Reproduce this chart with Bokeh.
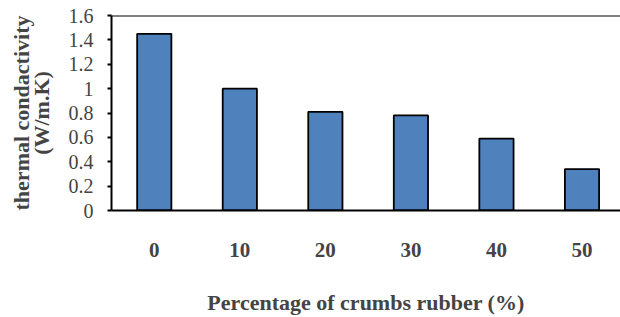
from bokeh.plotting import figure
from bokeh.models import Range1d, FixedTicker, ColumnDataSource, Span
from bokeh.embed import file_html
from bokeh.resources import INLINE

categories = ["0", "10", "20", "30", "40", "50"]
conductivity = [1.45, 1.00, 0.81, 0.78, 0.59, 0.34]
y_ticks = [0, 0.2, 0.4, 0.6, 0.8, 1.0, 1.2, 1.4, 1.6]
y_tick_labels = ["0", "0.2", "0.4", "0.6", "0.8", "1", "1.2", "1.4", "1.6"]

FONT = "Liberation Serif"

xs = list(range(len(categories)))
src = ColumnDataSource(dict(x=xs, top=conductivity))

p = figure(width=620, height=317, output_backend="svg", toolbar_location=None,
           x_range=Range1d(-0.5, len(categories) - 0.55), y_range=Range1d(0, 1.6),
           min_border_left=111, min_border_top=15, min_border_right=0, min_border_bottom=0)
p.outline_line_color = None
p.xgrid.visible = False
p.ygrid.visible = False
p.background_fill_color = "white"
p.border_fill_color = "white"

p.vbar(x="x", top="top", width=0.4, source=src, fill_color="#4F81BD",
       line_color="black", line_width=1.8)

# y axis
ya = p.yaxis[0]
ya.ticker = FixedTicker(ticks=y_ticks)
ya.major_label_overrides = {t: l for t, l in zip(y_ticks, y_tick_labels)}
ya.minor_tick_line_color = None
ya.major_tick_in = 0
ya.major_tick_out = 4
ya.major_tick_line_width = 2
ya.axis_line_width = 2
ya.major_label_text_font = FONT
ya.major_label_text_font_size = "20px"
ya.major_label_standoff = 14
ya.axis_label = "thermal condactivity\n(W/m.K)"
ya.axis_label_text_font = FONT
ya.axis_label_text_font_style = "bold"
ya.axis_label_text_font_size = "22px"
ya.axis_label_standoff = 12
ya.axis_label_text_line_height = 0.8

# x axis
xa = p.xaxis[0]
xa.ticker = FixedTicker(ticks=xs)
xa.major_label_overrides = {i: c for i, c in zip(xs, categories)}
xa.major_tick_line_color = None
xa.major_tick_out = 0
xa.major_tick_in = 0
xa.minor_tick_line_color = None
xa.axis_line_width = 2
xa.major_label_text_font = FONT
xa.major_label_text_font_style = "bold"
xa.major_label_text_font_size = "21px"
xa.major_label_standoff = 32
xa.axis_label = "Percentage of crumbs rubber (%)"
xa.axis_label_text_font = FONT
xa.axis_label_text_font_style = "bold"
xa.axis_label_text_font_size = "22px"
xa.axis_label_standoff = 30

# top border line of the plot area
p.add_layout(Span(location=1.6, dimension="width", line_color="black", line_width=2))

open("out.html", "w").write(file_html(p, INLINE))
